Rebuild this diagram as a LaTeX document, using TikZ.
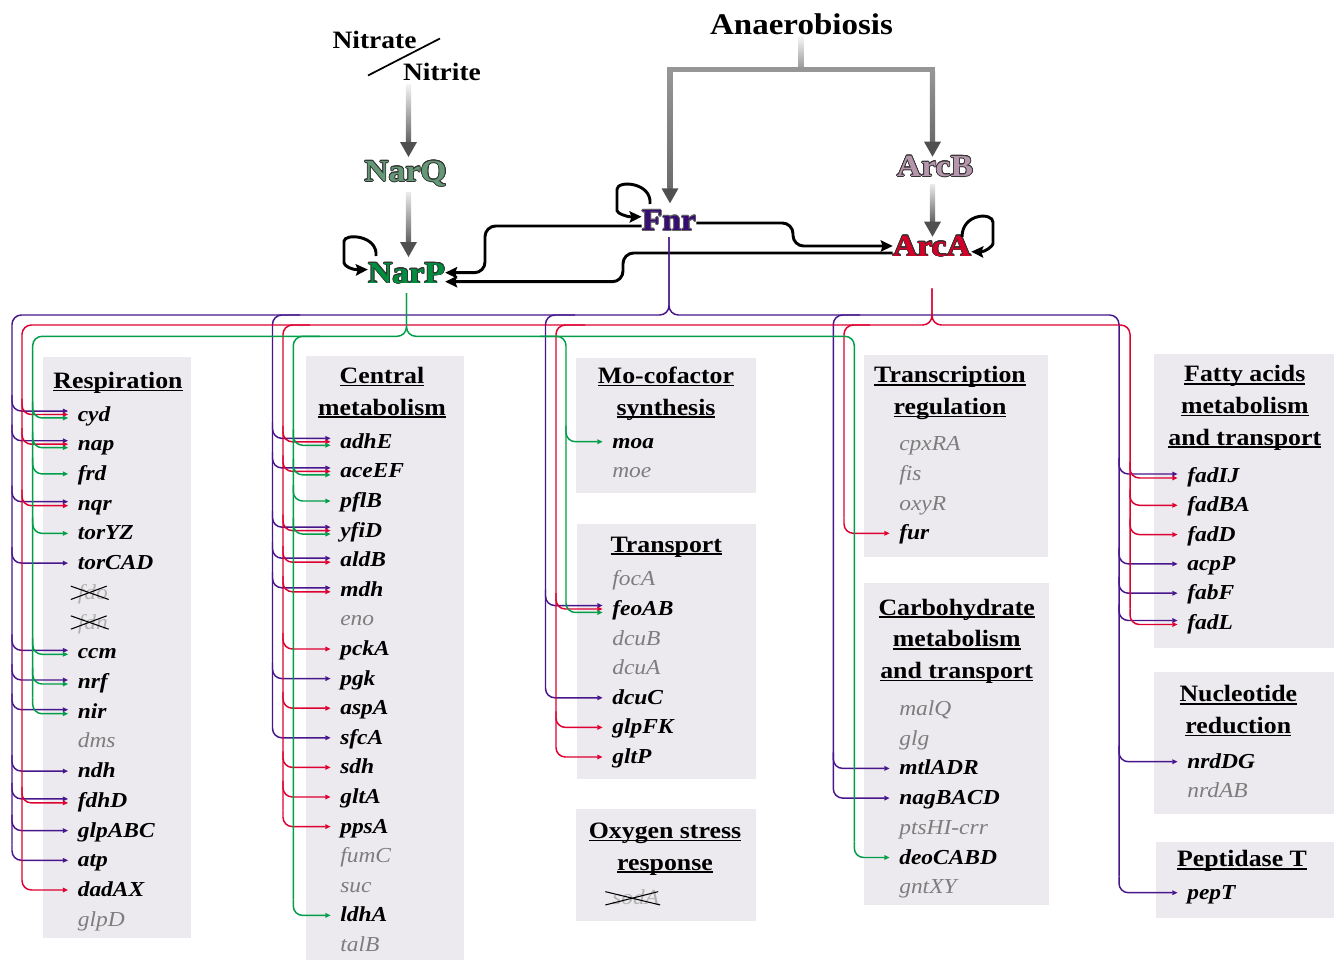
\documentclass[tikz,border=0pt]{standalone}
\usepackage{fontspec}
\setmainfont{Liberation Serif}[FakeStretch=1.1]
\usepackage[copies]{contour}
\contourlength{0.55pt}
\usetikzlibrary{arrows.meta,calc}

\definecolor{fnrc}{RGB}{72,22,140}
\definecolor{arcac}{RGB}{222,0,48}
\definecolor{narpc}{RGB}{0,158,72}
\definecolor{fnrt}{RGB}{55,12,115}
\definecolor{arcat}{RGB}{212,0,40}
\definecolor{narpt}{RGB}{0,142,62}
\definecolor{narqc}{RGB}{100,152,118}
\definecolor{arcbc}{RGB}{182,150,172}
\definecolor{boxc}{RGB}{236,234,238}
\definecolor{offc}{RGB}{125,125,125}
\definecolor{xc}{RGB}{178,178,178}
\definecolor{headg}{RGB}{80,80,80}
\definecolor{barg}{RGB}{150,150,150}

\newcommand\hul[1]{\setbox0=\hbox{#1}\rlap{\rule[-2.2pt]{\wd0}{1.3pt}}\box0}
\newcommand\reg[4]{\draw[#1] let \p1=([xshift=-7pt,yshift=#4]#3.west),\p2=(#2) in (\x2,\y1+12pt) [rounded corners=7pt] |- (\p1);}
\newcommand\garrow[5]{\shade[top color=#4,bottom color=#5] (#1-2.6,#2) rectangle (#1+2.6,#3-14.5);\fill[headg] (#1-8.5,#3-15) -- (#1+8.5,#3-15) -- (#1,#3) -- cycle;}

\tikzset{
  hd/.style={font=\fontsize{17.6}{23.7}\selectfont\bfseries, align=center, anchor=north, inner sep=0pt},
  gon/.style={font=\fontsize{16}{18}\selectfont\bfseries\itshape, anchor=west, inner sep=0pt, text height=9.75pt, text depth=0pt},
  goff/.style={font=\fontsize{16}{18}\selectfont\itshape, text=offc, anchor=west, inner sep=0pt, text height=9.75pt, text depth=0pt},
  gx/.style={goff, text=xc},
  xl/.style={line width=0.8pt, black},
  lab/.style={font=\fontsize{23}{26}\selectfont\bfseries, inner sep=0pt},
  pl/.style={draw=fnrc, line width=1.1pt},
  rl/.style={draw=arcac, line width=1.1pt},
  gl/.style={draw=narpc, line width=1.1pt},
  pa/.style={pl, -{Triangle[length=4pt,width=3.4pt]}},
  ra/.style={rl, -{Triangle[length=4pt,width=3.4pt]}},
  ga/.style={gl, -{Triangle[length=4pt,width=3.4pt]}},
  blk/.style={line width=2.2pt, black, -{Stealth[length=9pt,width=8.5pt,inset=1.5pt]}, rounded corners=8pt},
}

\begin{document}
\begin{tikzpicture}[x=0.75pt,y=-0.75pt]
\fill[white] (0,0) rectangle (1334,960);
\useasboundingbox (0,0) rectangle (1334,960);

% ---------- grey boxes
\fill[boxc] (42.7,356.7) rectangle (190.7,938.3);
\fill[boxc] (305.7,356) rectangle (464,960);
\fill[boxc] (576,357.7) rectangle (756,492.7);
\fill[boxc] (577,524) rectangle (756,778.7);
\fill[boxc] (576,809) rectangle (756,920.7);
\fill[boxc] (864,355) rectangle (1048,556.7);
\fill[boxc] (864,582.7) rectangle (1049,905);
\fill[boxc] (1154,354) rectangle (1334,647.7);
\fill[boxc] (1154,671.7) rectangle (1334,814);
\fill[boxc] (1156,841.7) rectangle (1334,917.7);

% ---------- headers
\node[hd] (hResp) at (118,369.6) {\rule{0pt}{14pt}\hul{Respiration}};
\node[hd] (hCent) at (382,364.6) {\rule{0pt}{14pt}\hul{Central}\\\hul{metabolism}};
\node[hd] (hMo) at (666,364.6) {\rule{0pt}{14pt}\hul{Mo-cofactor}\\\hul{synthesis}};
\node[hd] (hTr) at (666.3,533.3) {\rule{0pt}{14pt}\hul{Transport}};
\node[hd] (hOx) at (665,819.6) {\rule{0pt}{14pt}\hul{Oxygen stress}\\\hul{response}};
\node[hd] (hTR) at (950,364) {\rule{0pt}{14pt}\hul{Transcription}\\\hul{regulation}};
\node[hd] (hCa) at (956.7,596.3) {\rule{0pt}{14pt}\hul{Carbohydrate}\\\hul{metabolism}\\\hul{and transport}};
\node[hd] (hFA) at (1244.8,363) {\rule{0pt}{14pt}\hul{Fatty acids}\\\hul{metabolism}\\\hul{and transport}};
\node[hd] (hNu) at (1238.3,683) {\rule{0pt}{14pt}\hul{Nucleotide}\\\hul{reduction}};
\node[hd] (hPe) at (1242,848) {\rule{0pt}{14pt}\hul{Peptidase T}};

% ---------- genes
\foreach \n/\y in {cyd/414.5,nap/444.2,frd/473.9,nqr/503.7,torYZ/533.4,torCAD/563.1,ccm/652.3,nrf/682.0,nir/711.7,ndh/771.1,fdhD/800.9,glpABC/830.6,atp/860.3,dadAX/890.0}
  \node[gon] (\n) at (77.5,\y) {\n};
\foreach \n/\y in {dms/741.4,glpD/919.7}
  \node[goff] (\n) at (77.5,\y) {\n};
\node[gx] (fdo) at (77.5,592.8) {fdo};
\node[gx] (fdn) at (77.5,622.5) {fdn};

\foreach \n/\y in {adhE/441.8,aceEF/471.4,pflB/501.0,yfiD/530.6,aldB/560.2,mdh/589.8,pckA/649.0,pgk/678.6,aspA/708.2,sfcA/737.8,sdh/767.4,gltA/797.0,ppsA/826.6,ldhA/915.4}
  \node[gon] (\n) at (340,\y) {\n};
\foreach \n/\y in {eno/619.4,fumC/856.2,suc/885.8,talB/945.0}
  \node[goff] (\n) at (340,\y) {\n};

\foreach \n/\y in {moa/441.7,feoAB/609.0,dcuC/697.8,glpFK/727.4,gltP/757.0}
  \node[gon] (\n) at (612,\y) {\n};
\foreach \n/\y in {moe/471.3,focA/579.4,dcuB/638.6,dcuA/668.2}
  \node[goff] (\n) at (612,\y) {\n};
\node[gx] (sodA) at (612,898.3) {sodA};

\foreach \n/\y in {fur/533.3,mtlADR/768.4,nagBACD/798.1,deoCABD/857.5}
  \node[gon] (\n) at (899,\y) {\n};
\foreach \n/\y in {cpxRA/444.0,fis/473.8,oxyR/503.6,malQ/709.0,glg/738.7,gntXY/887.2}
  \node[goff] (\n) at (899,\y) {\n};
\node[goff] (ptsHI) at (899,827.8) {ptsHI-crr};

\foreach \n/\y in {fadIJ/476.0,fadBA/505.3,fadD/534.6,acpP/563.9,fabF/593.2,fadL/622.5,nrdDG/761.7,pepT/892.7}
  \node[gon] (\n) at (1187,\y) {\n};
\node[goff] (nrdAB) at (1187,791.3) {nrdAB};

% crossed-out genes
\foreach \n in {fdo,fdn,sodA}{
  \draw[xl] ([xshift=-5pt,yshift=5pt]\n.west) -- ([xshift=0.5pt,yshift=-5pt]\n.east);
  \draw[xl] ([xshift=-5pt,yshift=-5pt]\n.west) -- ([xshift=-1pt,yshift=5pt]\n.east);
}

% ---------- top labels
\node[font=\fontsize{22.5}{26}\selectfont\bfseries, inner sep=0pt] (Anaer) at (801.5,24) {Anaerobiosis};
\node[font=\fontsize{18.75}{22}\selectfont\bfseries, inner sep=0pt] (Nitrate) at (374.5,39.5) {Nitrate};
\node[font=\fontsize{18.75}{22}\selectfont\bfseries, inner sep=0pt] (Nitrite) at (442,72) {Nitrite};
\draw[line width=1.3pt] (368,75.5) -- (440,38.5);

\node[lab, text=narqc] (NarQ) at (405.5,174) {\contour{black!80}{NarQ}};
\node[lab, text=narpt] (NarP) at (406.5,273.5) {\contour{black!80}{NarP}};
\node[lab, text=fnrt] (Fnr) at (669,221) {\contour{black!60}{Fnr}};
\node[lab, text=arcbc] (ArcB) at (935,166.7) {\contour{black!80}{ArcB}};
\node[lab, text=arcat] (ArcA) at (932,246.5) {\contour{black!80}{ArcA}};

% ---------- grey signal arrows
\garrow{408.5}{84}{157}{white!96!black}{black!62}
\garrow{408.5}{192}{257}{white!92!black}{black!62}
\garrow{932.5}{184}{236.7}{white!92!black}{black!62}
\shade[top color=white!97!black, bottom color=barg] (798.7,36) rectangle (803.7,69);
\fill[barg] (667,66.5) rectangle (935,71.5);
\garrow{670}{71}{203.3}{barg}{black!58}
\garrow{932.5}{71}{156.7}{barg}{black!58}

% ---------- black regulatory arrows
\draw[blk] (Fnr.west |- 0,226) -| (485,272.7) -- (NarP.east |- 0,272.7);
\draw[blk] (ArcA.west |- 0,253) -| (623,281.7) -- (NarP.east |- 0,281.7);
\draw[blk] (Fnr.east |- 0,223) -| (793,246) -- (ArcA.west |- 0,246);
\draw[blk] (376,256) .. controls (378,235) and (344,233) .. (344,252) .. controls (344,266) and (352,270) .. (NarP.west |- 0,269.5);
\draw[blk] (650,204) .. controls (652,182) and (617,180) .. (617,200) .. controls (617,213) and (626,217) .. (Fnr.west |- 0,216.7);
\draw[blk] (962,237) .. controls (962,213) and (993,212) .. (993,233) .. controls (993,246) and (985,252) .. (ArcA.east |- 0,251.7);

% ---------- bus coordinates
\coordinate (P1) at (12,0);    \coordinate (R1) at (22,0);   \coordinate (G1) at (32.7,0);
\coordinate (P2) at (272.5,0); \coordinate (R2) at (283,0);  \coordinate (G2) at (293.3,0);
\coordinate (P3) at (545.5,0); \coordinate (R3) at (556,0);  \coordinate (G3) at (566,0);
\coordinate (P4) at (833.3,0); \coordinate (R4) at (844,0);  \coordinate (G4) at (854.3,0);
\coordinate (P5) at (1119,0);  \coordinate (R5) at (1130,0);

% ---------- Fnr (purple)
\draw[pl, rounded corners=7pt] (Fnr.south |- 0,237) |- (12,315) -- (12,844.3);
\draw[pl, rounded corners=7pt] (Fnr.south |- 0,237) |- (1119,315) -- (1119,876.7);
\draw[pl, rounded corners=7pt] (300,315) -| (272.5,721.8);
\draw[pl, rounded corners=7pt] (575,315) -| (545.5,681.8);
\draw[pl, rounded corners=7pt] (860,315) -| (833.3,782.1);
\reg{pa}{P1}{cyd}{2.6pt} \reg{pa}{P1}{nap}{2.6pt} \reg{pa}{P1}{nqr}{1.5pt}
\reg{pa}{P1}{torCAD}{0pt} \reg{pa}{P1}{ccm}{1.5pt} \reg{pa}{P1}{nrf}{1.5pt}
\reg{pa}{P1}{nir}{1.5pt} \reg{pa}{P1}{ndh}{0pt} \reg{pa}{P1}{fdhD}{1.5pt}
\reg{pa}{P1}{glpABC}{0pt} \reg{pa}{P1}{atp}{0pt}
\reg{pa}{P2}{adhE}{2.6pt} \reg{pa}{P2}{aceEF}{2.6pt} \reg{pa}{P2}{yfiD}{2.6pt}
\reg{pa}{P2}{aldB}{1.5pt} \reg{pa}{P2}{mdh}{1.5pt} \reg{pa}{P2}{pgk}{0pt}
\reg{pa}{P2}{sfcA}{0pt}
\reg{pa}{P3}{feoAB}{2.6pt} \reg{pa}{P3}{dcuC}{0pt}
\reg{pa}{P4}{mtlADR}{0pt} \reg{pa}{P4}{nagBACD}{0pt}
\reg{pa}{P5}{fadIJ}{1.5pt} \reg{pa}{P5}{acpP}{0pt} \reg{pa}{P5}{fabF}{0pt}
\reg{pa}{P5}{fadL}{1.5pt} \reg{pa}{P5}{nrdDG}{0pt} \reg{pa}{P5}{pepT}{0pt}

% ---------- ArcA (red)
\draw[rl, rounded corners=7pt] (ArcA.south |- 0,288.3) |- (22,325) -- (22,874);
\draw[rl, rounded corners=7pt] (ArcA.south |- 0,288.3) |- (1130,325) -- (1130,608.5);
\draw[rl, rounded corners=7pt] (310,325) -| (283,810.6);
\draw[rl, rounded corners=7pt] (585,325) -| (556,741);
\draw[rl, rounded corners=7pt] (870,325) -| (844,517.3);
\reg{ra}{R1}{cyd}{0pt} \reg{ra}{R1}{nap}{0pt} \reg{ra}{R1}{nqr}{-1.5pt}
\reg{ra}{R1}{fdhD}{-1.5pt} \reg{ra}{R1}{dadAX}{0pt}
\reg{ra}{R2}{adhE}{0pt} \reg{ra}{R2}{aceEF}{0pt} \reg{ra}{R2}{yfiD}{0pt}
\reg{ra}{R2}{aldB}{-1.5pt} \reg{ra}{R2}{mdh}{-1.5pt} \reg{ra}{R2}{pckA}{0pt}
\reg{ra}{R2}{aspA}{0pt} \reg{ra}{R2}{sdh}{0pt} \reg{ra}{R2}{gltA}{0pt}
\reg{ra}{R2}{ppsA}{0pt}
\reg{ra}{R3}{feoAB}{0pt} \reg{ra}{R3}{glpFK}{0pt} \reg{ra}{R3}{gltP}{0pt}
\reg{ra}{R4}{fur}{0pt}
\reg{ra}{R5}{fadIJ}{-1.5pt} \reg{ra}{R5}{fadBA}{0pt} \reg{ra}{R5}{fadD}{0pt}
\reg{ra}{R5}{fadL}{-1.5pt}

% ---------- NarP (green)
\draw[gl, rounded corners=7pt] (NarP.south |- 0,293) |- (32.7,336.3) -- (32.7,697.7);
\draw[gl, rounded corners=7pt] (NarP.south |- 0,293) |- (854.3,336.3) -- (854.3,841.5);
\draw[gl, rounded corners=7pt] (320,336.3) -| (293.3,899.4);
\draw[gl, rounded corners=7pt] (540,336.3) -| (566,596.5);
\reg{ga}{G1}{cyd}{-2.6pt} \reg{ga}{G1}{nap}{-2.6pt} \reg{ga}{G1}{frd}{0pt}
\reg{ga}{G1}{torYZ}{0pt} \reg{ga}{G1}{ccm}{-1.5pt} \reg{ga}{G1}{nrf}{-1.5pt}
\reg{ga}{G1}{nir}{-1.5pt}
\reg{ga}{G2}{adhE}{-2.6pt} \reg{ga}{G2}{aceEF}{-2.6pt} \reg{ga}{G2}{pflB}{0pt}
\reg{ga}{G2}{yfiD}{-2.6pt} \reg{ga}{G2}{ldhA}{0pt}
\reg{ga}{G3}{moa}{0pt} \reg{ga}{G3}{feoAB}{-2.6pt}
\reg{ga}{G4}{deoCABD}{0pt}
\end{tikzpicture}
\end{document}
